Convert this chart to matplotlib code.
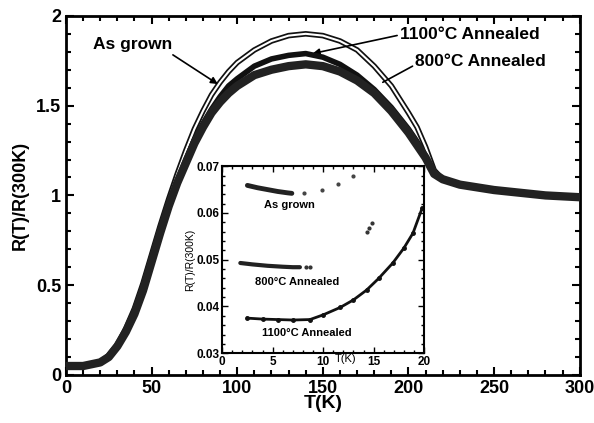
import numpy as np
import matplotlib
matplotlib.use('Agg')
import matplotlib.pyplot as plt
from matplotlib.ticker import MultipleLocator

plt.rcParams['font.family'] = 'Liberation Sans'
plt.rcParams['font.weight'] = 'bold'

# main panel: normalised resistance vs temperature
T = [0, 10, 20, 25, 30, 35, 40, 45, 50, 55, 60, 65, 70, 75, 80, 85, 90, 95, 100,
     110, 120, 130, 140, 150, 160, 170, 180, 190, 200, 205, 210, 215, 220, 230,
     240, 250, 260, 270, 280, 290, 300]
r_grown = [0.05, 0.05, 0.07, 0.11, 0.17, 0.26, 0.37, 0.51, 0.67, 0.83, 0.98, 1.12,
           1.25, 1.37, 1.47, 1.56, 1.63, 1.69, 1.74, 1.81, 1.86, 1.89, 1.90, 1.89,
           1.86, 1.81, 1.72, 1.61, 1.46, 1.38, 1.27, 1.14, 1.09, 1.06, 1.045, 1.03,
           1.02, 1.01, 1.0, 0.995, 0.99]
r_1100 = [0.05, 0.05, 0.07, 0.10, 0.16, 0.24, 0.35, 0.48, 0.64, 0.80, 0.95, 1.08,
          1.20, 1.31, 1.40, 1.48, 1.55, 1.61, 1.65, 1.72, 1.76, 1.78, 1.79, 1.77,
          1.73, 1.67, 1.59, 1.49, 1.37, 1.30, 1.22, 1.12, 1.09, 1.06, 1.045, 1.03,
          1.02, 1.01, 1.0, 0.995, 0.99]
r_800 = [0.05, 0.05, 0.07, 0.10, 0.16, 0.24, 0.34, 0.47, 0.63, 0.79, 0.94, 1.07,
         1.18, 1.29, 1.38, 1.46, 1.52, 1.57, 1.61, 1.67, 1.70, 1.72, 1.73, 1.72,
         1.69, 1.64, 1.57, 1.47, 1.35, 1.28, 1.21, 1.12, 1.09, 1.06, 1.045, 1.03,
         1.02, 1.01, 1.0, 0.995, 0.99]

# inset: low temperature detail
t_grown = [2.5, 3.5, 4.5, 5.5, 6.5, 6.9]
v_grown = [0.0659, 0.0654, 0.0650, 0.0646, 0.0643, 0.0642]
t_grown_pts = [8.1, 9.9, 11.5, 13.0]
v_grown_pts = [0.0642, 0.0649, 0.0661, 0.0680]
t_800 = [1.8, 3.0, 4.5, 6.0, 7.0, 7.7]
v_800 = [0.0493, 0.0490, 0.0487, 0.0485, 0.0484, 0.0484]
t_800_pts = [8.3, 8.7, 14.3, 14.5, 14.8]
v_800_pts = [0.0485, 0.0485, 0.0559, 0.0567, 0.0578]
t_1100 = [2.5, 4.0, 5.5, 7.0, 8.7, 10.0, 11.7, 13.0, 14.3, 15.5, 16.9, 18.0, 18.9, 19.8]
v_1100 = [0.0375, 0.0373, 0.0372, 0.0371, 0.0372, 0.0382, 0.0398, 0.0414, 0.0435,
          0.0460, 0.0493, 0.0525, 0.0557, 0.0610]

fig = plt.figure(figsize=(5.94, 4.23), dpi=100)
ax = fig.add_axes([0.111, 0.1135, 0.865, 0.849])

# open symbols for the as-grown film, dense filled symbols for annealed ones
ax.plot(T, r_grown, color='#111111', lw=4, zorder=2)
ax.plot(T, r_grown, color='white', lw=1.5, zorder=3)
ax.plot(T, r_1100, color='#111111', lw=4, zorder=4)
ax.plot(T, r_800, color='#222222', lw=6, zorder=5)

ax.set_xlim(0, 300)
ax.set_ylim(0, 2)
ax.xaxis.set_major_locator(MultipleLocator(50))
ax.xaxis.set_minor_locator(MultipleLocator(10))
ax.yaxis.set_minor_locator(MultipleLocator(0.1))
ax.set_yticks([0, 0.5, 1, 1.5, 2])
ax.set_yticklabels(['0', '0.5', '1', '1.5', '2'])
ax.tick_params(which='both', direction='in', top=True, right=True, width=1.5,
               labelsize=13)
ax.tick_params(which='major', length=6)
ax.tick_params(which='minor', length=3.5)
for s in ax.spines.values():
    s.set_linewidth(2)
ax.set_xlabel('T(K)', fontsize=14, fontweight='bold', labelpad=-1)
ax.set_ylabel('R(T)/R(300K)', fontsize=13, fontweight='bold', labelpad=5)

arrow = dict(arrowstyle='-|>', color='black', lw=1.2, mutation_scale=10)
ax.annotate('As grown', xy=(88.7, 1.62), xytext=(16, 1.84), fontsize=12.5,
            fontweight='bold', va='center', ha='left',
            arrowprops=dict(arrow, shrinkA=0, shrinkB=0, relpos=(0.95, 0.0)))
ax.annotate('1100\u00b0C Annealed', xy=(144, 1.79), xytext=(195, 1.894),
            fontsize=12.5, fontweight='bold', va='center', ha='left',
            arrowprops=dict(arrow, shrinkA=0, shrinkB=0, relpos=(0.0, 0.5)))
ax.annotate('800\u00b0C Annealed', xy=(185, 1.63), xytext=(204, 1.745),
            fontsize=12.5, fontweight='bold', va='center', ha='left',
            arrowprops=dict(arrowstyle='-', color='black', lw=1.2,
                            shrinkA=0, shrinkB=0, relpos=(0.0, 0.3)))

# inset
ins = fig.add_axes([0.374, 0.165, 0.340, 0.442])
ins.plot(t_grown, v_grown, color='#222222', lw=3.5, solid_capstyle='round')
ins.plot(t_grown_pts, v_grown_pts, 'o', color='#444444', ms=2)
ins.plot(t_800, v_800, color='#222222', lw=3, solid_capstyle='round')
ins.plot(t_800_pts, v_800_pts, 'o', color='#333333', ms=2)
ins.plot(t_1100, v_1100, color='#111111', lw=2, marker='o', ms=2.5)

ins.set_xlim(0, 20)
ins.set_ylim(0.03, 0.07)
ins.xaxis.set_major_locator(MultipleLocator(5))
ins.xaxis.set_minor_locator(MultipleLocator(1))
ins.yaxis.set_major_locator(MultipleLocator(0.01))
ins.yaxis.set_minor_locator(MultipleLocator(0.002))
ins.tick_params(which='both', direction='in', top=True, right=True, width=1,
                labelsize=8.5, pad=2)
ins.tick_params(which='major', length=4)
ins.tick_params(which='minor', length=2)
for s in ins.spines.values():
    s.set_linewidth(1.5)
ins.set_ylabel('R(T)/R(300K)', fontsize=7.5, fontweight='normal', labelpad=1)
ins.text(12.2, 0.0298, 'T(K)', fontsize=8, fontweight='normal', ha='center',
         va='top')

ins.text(6.7, 0.0617, 'As grown', fontsize=8, fontweight='bold', ha='center',
         va='center')
ins.text(7.4, 0.0452, '800\u00b0C Annealed', fontsize=8, fontweight='bold',
         ha='center', va='center')
ins.text(8.4, 0.0343, '1100\u00b0C Annealed', fontsize=8, fontweight='bold',
         ha='center', va='center')

fig.savefig('out.png', dpi=100)
